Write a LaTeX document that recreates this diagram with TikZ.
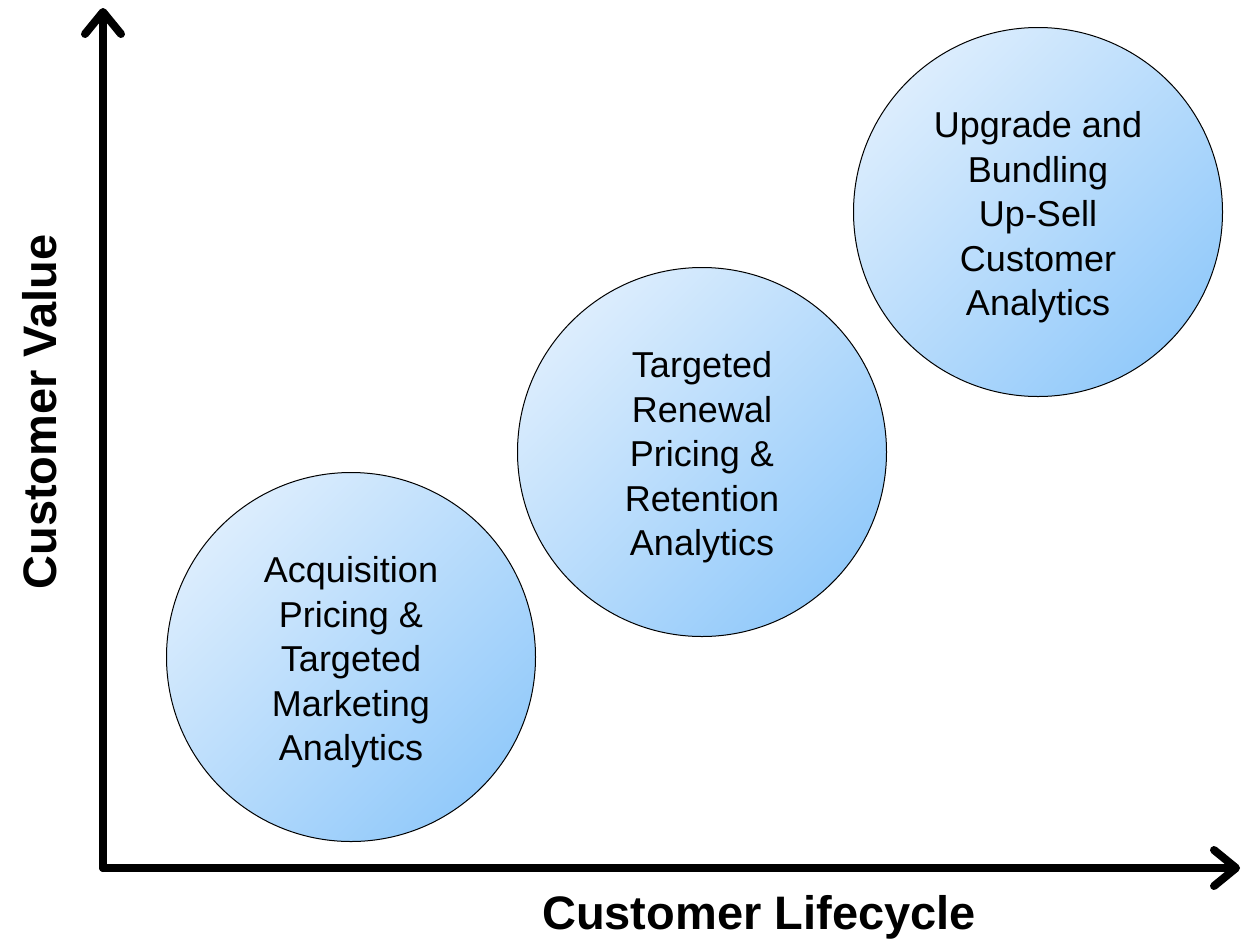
\documentclass[tikz,border=0pt]{standalone}
\usepackage{fontspec}
\setmainfont{Liberation Sans}
\usetikzlibrary{arrows.meta}
\definecolor{bubblelight}{HTML}{DCEDFD}
\definecolor{bubbledark}{HTML}{93CAFA}
\begin{document}
\begin{tikzpicture}[x=1pt,y=-1pt,
  axis/.style={line width=8pt,line cap=round,line join=round,
    -{Straight Barb[length=22pt,width=36pt,round]}},
  bubble/.style={circle,draw=black,line width=1pt,minimum size=369pt,inner sep=0pt,
    left color=bubblelight,right color=bubbledark,shading angle=45,
    align=center,font=\fontsize{36}{44.5}\selectfont},
  axislabel/.style={font=\fontsize{47}{56}\selectfont\bfseries}]
\useasboundingbox (0,0) rectangle (1246,951);
% axes
\coordinate (origin) at (103,868);
\coordinate (ytop) at (103,8);
\coordinate (xend) at (1240,868);
\draw[axis] (origin) -- (ytop);
\draw[axis] (origin) -- (xend);
% lifecycle stages
\node[bubble] (acq) at (351,657) {\\[-8pt]Acquisition\\Pricing \&\\Targeted\\Marketing\\Analytics};
\node[bubble] (ren) at (702,452) {\\[-8pt]Targeted\\Renewal\\Pricing \&\\Retention\\Analytics};
\node[bubble] (up) at (1038,212) {\\[-8pt]Upgrade and\\Bundling\\Up-Sell\\Customer\\Analytics};
% axis labels
\node[axislabel] (xlab) at (759,917) {Customer Lifecycle};
\node[axislabel,rotate=90] (ylab) at (40,412) {Customer Value};
\end{tikzpicture}
\end{document}
